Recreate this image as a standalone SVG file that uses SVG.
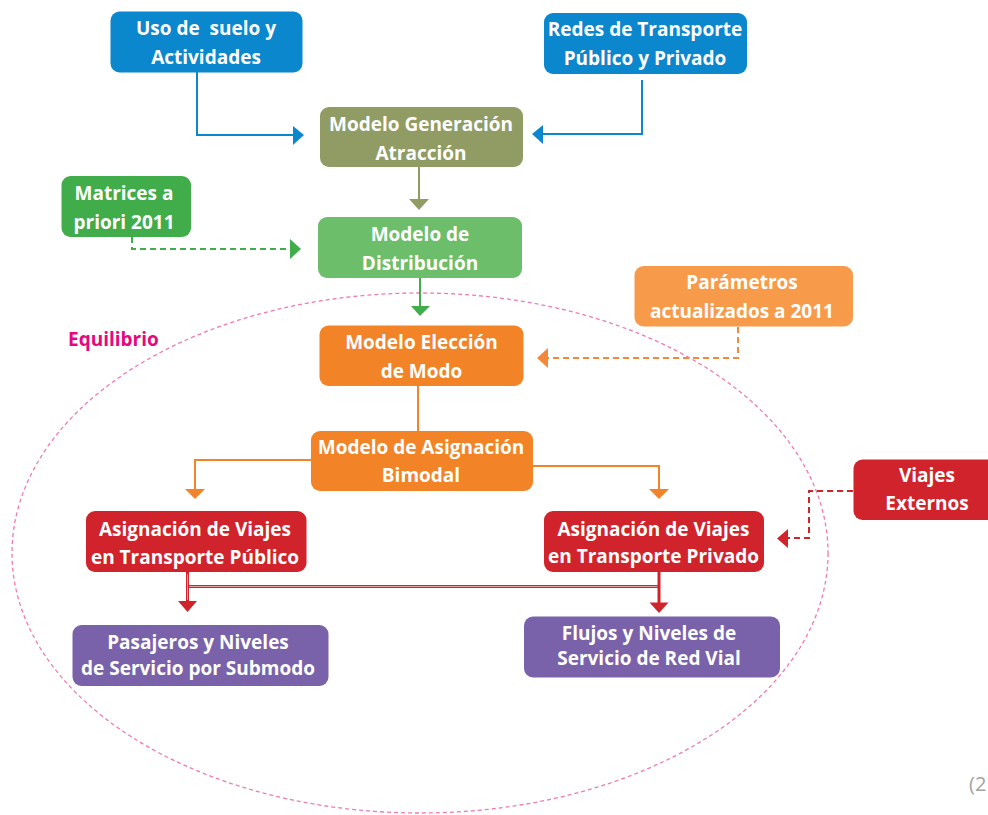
<svg xmlns="http://www.w3.org/2000/svg" width="988" height="815" viewBox="0 0 988 815">
  <style>
    .box { stroke: none; }
    .lbl { font-family: "Open Sans", "Noto Sans", "Liberation Sans", sans-serif; font-weight: 700; font-size: 19px; fill: #ffffff; text-anchor: middle; }
    .blue { fill: #0B87CE; }
    .olive { fill: #919C65; }
    .green { fill: #40AD4A; }
    .lgreen { fill: #6DBE6A; }
    .lorange { fill: #F79B4B; }
    .orange { fill: #F28326; }
    .red { fill: #D1232B; }
    .purple { fill: #7A62AA; }
    .ln { fill: none; stroke-width: 2; }
    .dash { fill: none; stroke-width: 2; stroke-dasharray: 6 4; }
  </style>

  <!-- equilibrium loop boundary -->
  <ellipse cx="420" cy="553" rx="408" ry="260" fill="none" stroke="#F07AB4" stroke-width="1.3" stroke-dasharray="4 3"/>
  <text x="68" y="345.5" style="font-family: 'Open Sans', 'Noto Sans', 'Liberation Sans', sans-serif; font-weight: 700; font-size: 19px; fill: #E5087F;">Equilibrio</text>

  <g id="connectors">
    <!-- land use -> generation -->
    <polyline class="ln" stroke="#0B87CE" points="197,72 197,135 294,135"/>
    <polygon fill="#0B87CE" points="293,126 304,135 293,145"/>
    <!-- networks -> generation -->
    <polyline class="ln" stroke="#0B87CE" points="642,80 642,134 542,134"/>
    <polygon fill="#0B87CE" points="543,125 532,134 543,144"/>
    <!-- generation -> distribution -->
    <line class="ln" stroke="#919C65" x1="419" y1="167" x2="419" y2="200"/>
    <polygon fill="#919C65" points="409,199 429,199 419,210"/>
    <!-- prior matrices -> distribution -->
    <polyline class="dash" stroke="#40AD4A" points="132,237 132,249 291,249"/>
    <polygon fill="#40AD4A" points="290,239 301,249 290,259"/>
    <!-- distribution -> mode choice -->
    <line class="ln" stroke="#40AD4A" x1="420" y1="278" x2="420" y2="307"/>
    <polygon fill="#40AD4A" points="411,306 430,306 420,316"/>
    <!-- updated parameters -> mode choice -->
    <polyline class="dash" stroke="#F3883A" points="738,327 738,358 548,358"/>
    <polygon fill="#F3883A" points="548,348 537,358 548,368"/>
    <!-- mode choice -> bimodal assignment -->
    <line class="ln" stroke="#F28326" x1="418" y1="386" x2="418" y2="431"/>
    <!-- bimodal assignment -> public / private -->
    <polyline class="ln" stroke="#F28326" points="311,460 195,460 195,490"/>
    <polygon fill="#F28326" points="185,489 205,489 195,499"/>
    <polyline class="ln" stroke="#F28326" points="533,466 659,466 659,490"/>
    <polygon fill="#F28326" points="649,489 669,489 659,499"/>
    <!-- external trips -> private assignment -->
    <polyline class="dash" stroke="#D1232B" points="853,491 809,491 809,538 788,538"/>
    <polygon fill="#D1232B" points="788,529 777,538.5 788,548"/>
    <!-- assignments -> levels of service -->
    <g stroke="#D1232B" fill="none" stroke-width="3">
      <line x1="187.5" y1="572" x2="187.5" y2="602"/>
      <line x1="659" y1="572" x2="659" y2="603"/>
      <line x1="187.5" y1="586.5" x2="659" y2="586.5"/>
    </g>
    <g stroke="#F3C2C4" fill="none" stroke-width="0.8">
      <line x1="187.5" y1="574" x2="187.5" y2="600"/>
      <line x1="189" y1="586.5" x2="657.5" y2="586.5"/>
    </g>
    <polygon fill="#D1232B" points="178,601 197,601 187.5,612"/>
    <polygon fill="#D1232B" points="649.5,602.5 668.5,602.5 659,613"/>
  </g>

  <g id="uso-suelo">
    <rect class="box blue" x="110.5" y="11.5" width="192" height="61" rx="9"/>
    <text class="lbl" x="206" y="35" xml:space="preserve">Uso de  suelo y</text>
    <text class="lbl" x="206" y="63.5">Actividades</text>
  </g>

  <g id="redes-transporte">
    <rect class="box blue" x="544" y="13" width="203" height="61" rx="9"/>
    <text class="lbl" x="645" y="36">Redes de Transporte</text>
    <text class="lbl" x="645" y="64.5">Público y Privado</text>
  </g>

  <g id="modelo-generacion">
    <rect class="box olive" x="320" y="107" width="203" height="60" rx="9"/>
    <text class="lbl" x="421" y="131">Modelo Generación</text>
    <text class="lbl" x="421" y="159.5">Atracción</text>
  </g>

  <g id="matrices-priori">
    <rect class="box green" x="61.5" y="176" width="129.5" height="61" rx="9"/>
    <text class="lbl" x="124" y="200">Matrices a</text>
    <text class="lbl" x="124" y="229">priori 2011</text>
  </g>

  <g id="modelo-distribucion">
    <rect class="box lgreen" x="318" y="217" width="204" height="61" rx="9"/>
    <text class="lbl" x="420" y="241">Modelo de</text>
    <text class="lbl" x="420" y="269.5">Distribución</text>
  </g>

  <g id="parametros">
    <rect class="box lorange" x="634.5" y="266" width="218.5" height="60.5" rx="9"/>
    <text class="lbl" x="742" y="288.5">Parámetros</text>
    <text class="lbl" x="742" y="317.5">actualizados a 2011</text>
  </g>

  <g id="modelo-eleccion">
    <rect class="box orange" x="319.5" y="325.5" width="204" height="60.5" rx="9"/>
    <text class="lbl" x="421.5" y="348.5">Modelo Elección</text>
    <text class="lbl" x="421.5" y="377.5">de Modo</text>
  </g>

  <g id="modelo-asignacion">
    <rect class="box orange" x="311" y="431" width="222" height="60" rx="9"/>
    <text class="lbl" x="421" y="454">Modelo de Asignación</text>
    <text class="lbl" x="421" y="482">Bimodal</text>
  </g>

  <g id="viajes-publico">
    <rect class="box red" x="86" y="511" width="220.5" height="61" rx="9"/>
    <text class="lbl" x="195" y="535.5">Asignación de Viajes</text>
    <text class="lbl" x="195" y="563.5">en Transporte Público</text>
  </g>

  <g id="viajes-privado">
    <rect class="box red" x="544" y="511" width="220" height="61" rx="9"/>
    <text class="lbl" x="653.5" y="535.5">Asignación de Viajes</text>
    <text class="lbl" x="653.5" y="563">en Transporte Privado</text>
  </g>

  <g id="viajes-externos">
    <rect class="box red" x="853.5" y="459.5" width="160" height="60.5" rx="9"/>
    <text class="lbl" x="927" y="482">Viajes</text>
    <text class="lbl" x="927" y="510">Externos</text>
  </g>

  <g id="pasajeros-submodo">
    <rect class="box purple" x="72.5" y="625" width="256" height="61" rx="9"/>
    <text class="lbl" x="198" y="649">Pasajeros y Niveles</text>
    <text class="lbl" x="198" y="674.5">de Servicio por Submodo</text>
  </g>

  <g id="flujos-red-vial">
    <rect class="box purple" x="524" y="616.5" width="256" height="61" rx="9"/>
    <text class="lbl" x="649" y="640">Flujos y Niveles de</text>
    <text class="lbl" x="649" y="665">Servicio de Red Vial</text>
  </g>

  <text x="969" y="791" style="font-family: 'Open Sans', 'Noto Sans', 'Liberation Sans', sans-serif; font-size: 20px; fill: #A3A3A3;">(2</text>
</svg>
